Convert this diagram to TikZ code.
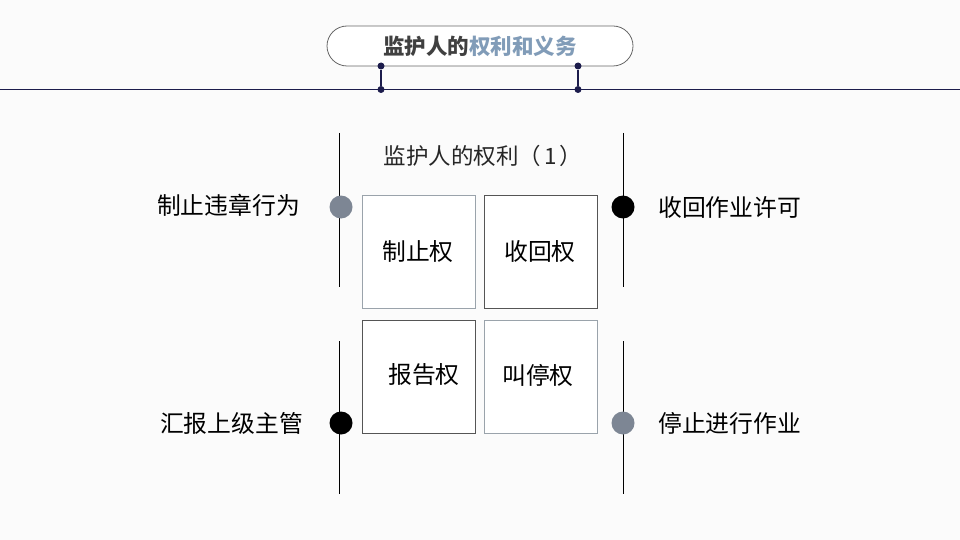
\documentclass[tikz,border=0pt]{standalone}
\usepackage{fontspec}
\setmainfont{Noto Sans CJK SC}
\newfontfamily\cjk{Noto Sans CJK SC}
\definecolor{navy}{HTML}{1C1C4C}
\definecolor{titlegray}{HTML}{404040}
\definecolor{titleblue}{HTML}{819CB8}
\definecolor{dotgray}{HTML}{7D8694}
\definecolor{boxlight}{HTML}{9AA3AB}
\definecolor{boxdark}{HTML}{555555}
\definecolor{bg}{HTML}{FBFBFB}
\begin{document}
\begin{tikzpicture}[x=1pt,y=-1pt,
  lbl/.style={font=\cjk\fontsize{23.8}{26}\selectfont, text=black, inner sep=0pt},
  cell/.style={draw, line width=0.8pt, minimum width=113pt, minimum height=113pt, inner sep=0pt, fill=white},
  bigdot/.style={circle, inner sep=0pt, minimum size=23pt},
  smalldot/.style={circle, fill=navy, inner sep=0pt, minimum size=7pt},
  vline/.style={line width=1pt, black}]
\path[fill=bg,use as bounding box] (0,0) rectangle (960,540);
% title
\node[draw=black!60, line width=0.8pt, rounded corners=20pt, minimum width=306pt, minimum height=40pt, fill=white] (title) at (480,46)
  {\cjk\bfseries\fontsize{21.5}{24}\selectfont\textcolor{titlegray}{监护人的}\textcolor{titleblue}{权利和义务}};
\node[smalldot] (d1) at (381,66) {};
\node[smalldot] (d2) at (578,66) {};
\node[smalldot] (d3) at (381,89.5) {};
\node[smalldot] (d4) at (578,89.5) {};
\coordinate (hl) at (0,89.5);
\coordinate (hr) at (960,89.5);
\draw[navy, line width=1pt] (hl) -- (hr);
\draw[navy, line width=1.2pt] (d1) -- (d3);
\draw[navy, line width=1.2pt] (d2) -- (d4);
% subtitle
\node[font=\cjk\fontsize{22.5}{26}\selectfont, text=black!85, inner sep=0pt] (sub) at (483,156) {监护人的权利（\hspace{3pt}1\hspace{3pt}）};
% vertical lines
\coordinate (lt1) at (339,133); \coordinate (lb1) at (339,287);
\coordinate (rt1) at (623,133); \coordinate (rb1) at (623,287);
\coordinate (lt2) at (339,341); \coordinate (lb2) at (339,494);
\coordinate (rt2) at (623,341); \coordinate (rb2) at (623,494);
\draw[vline] (lt1) -- (lb1);
\draw[vline] (rt1) -- (rb1);
\draw[vline] (lt2) -- (lb2);
\draw[vline] (rt2) -- (rb2);
% dots
\node[bigdot, fill=dotgray] (dl1) at (341,207) {};
\node[bigdot, fill=black] (dr1) at (623,207) {};
\node[bigdot, fill=black] (dl2) at (341,423) {};
\node[bigdot, fill=dotgray] (dr2) at (623,423) {};
% cells
\node[cell, draw=boxlight] (c1) at (418.5,251.5) {};
\node[cell, draw=boxdark] (c2) at (541,251.5) {};
\node[cell, draw=boxdark] (c3) at (418.5,377) {};
\node[cell, draw=boxlight] (c4) at (541,377) {};
\node[lbl] (t1) at (418,252) {制止权};
\node[lbl] (t2) at (540,252) {收回权};
\node[lbl] (t3) at (424,375) {报告权};
\node[lbl] (t4) at (538,375) {叫停权};
% side labels
\node[lbl, anchor=east] (s1) at (300,205) {制止违章行为};
\node[lbl, anchor=west] (s2) at (658,207) {收回作业许可};
\node[lbl, anchor=east] (s3) at (303,423) {汇报上级主管};
\node[lbl, anchor=west] (s4) at (658,423) {停止进行作业};
\end{tikzpicture}
\end{document}
